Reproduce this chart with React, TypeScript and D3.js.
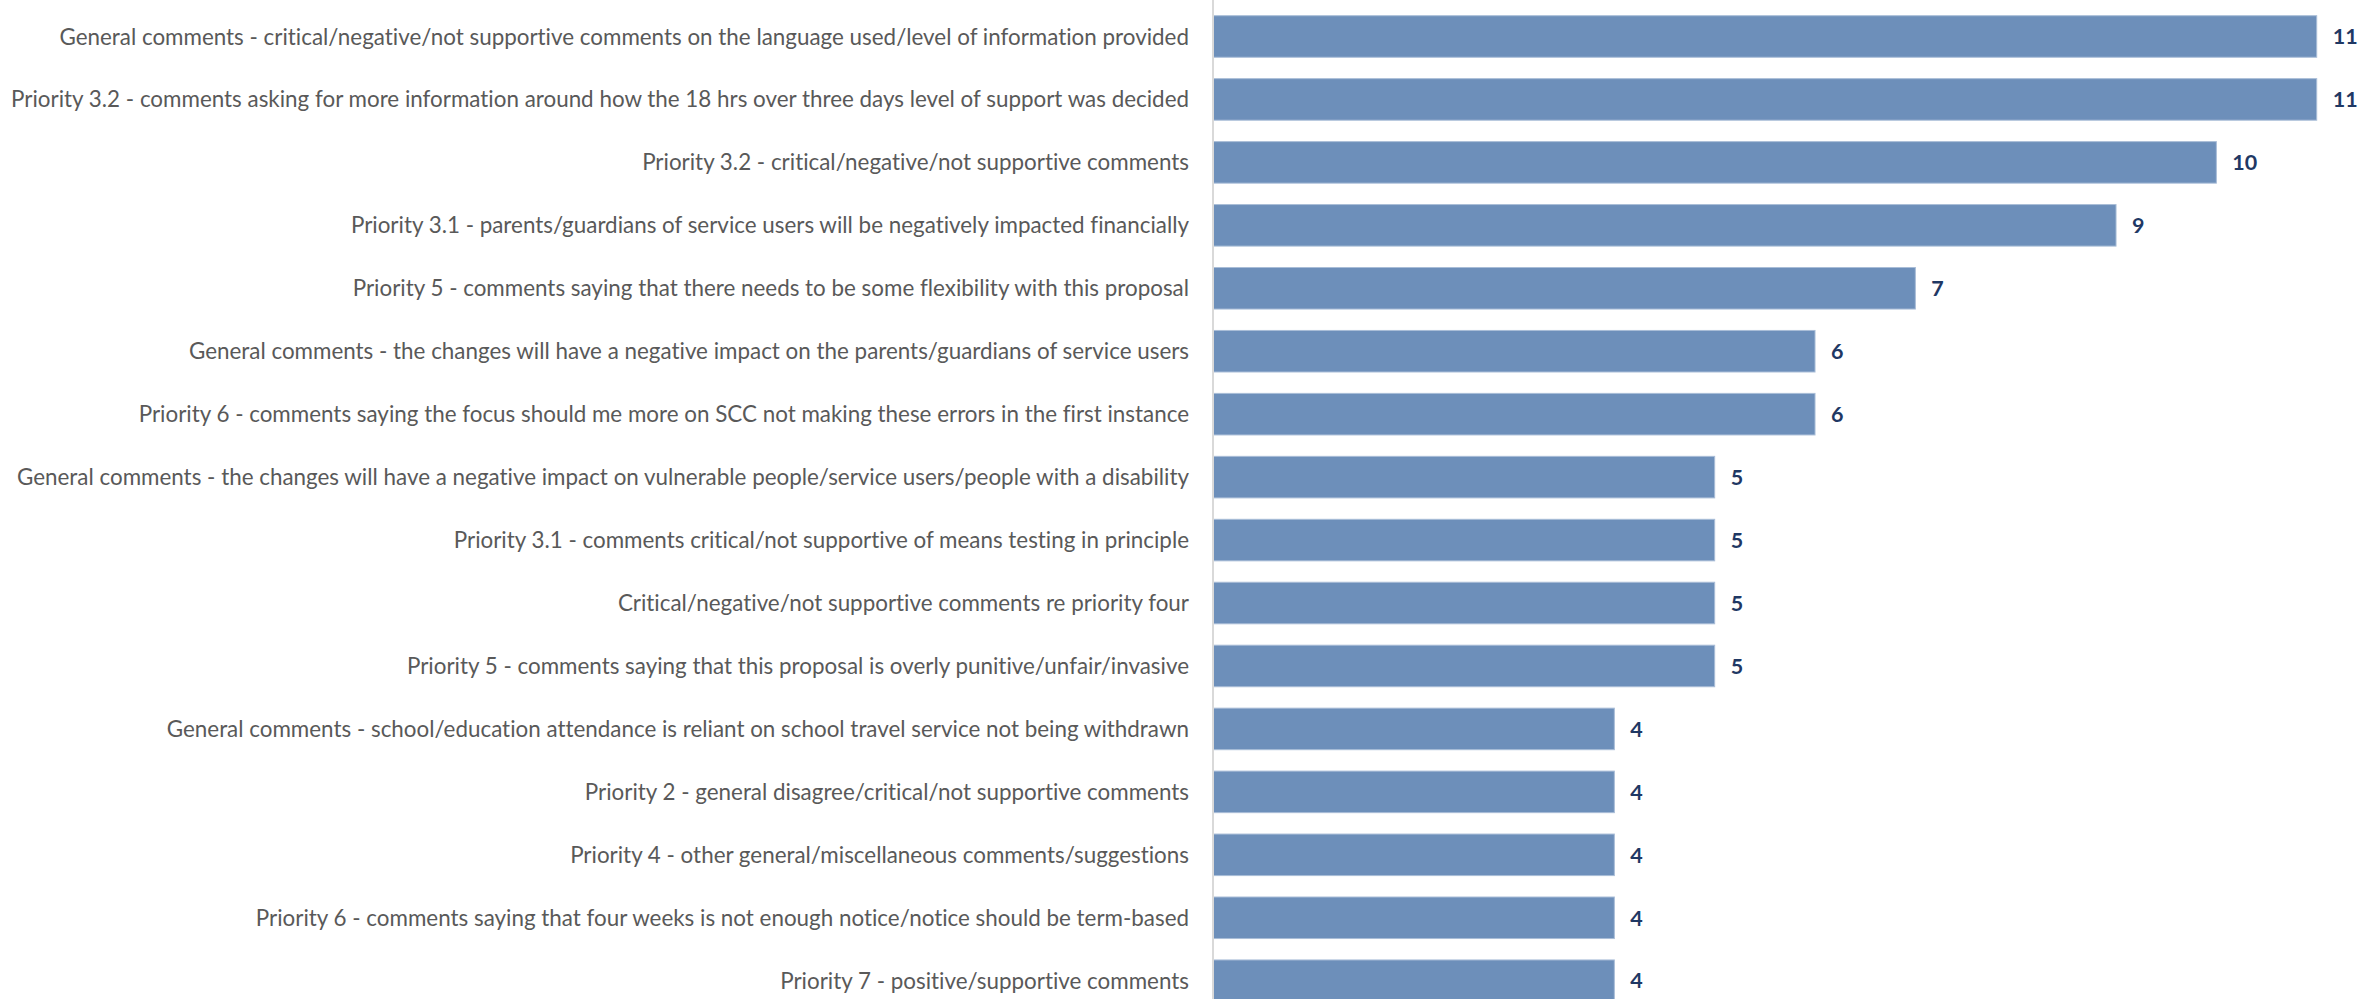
import React, { useEffect } from "react";
import * as d3 from "d3";

const categories: string[] = [
  "General comments - critical/negative/not supportive comments on the language used/level of information provided",
  "Priority 3.2 - comments asking for more information around how the 18 hrs over three days level of support was decided",
  "Priority 3.2 - critical/negative/not supportive comments",
  "Priority 3.1 - parents/guardians of service users will be negatively impacted financially",
  "Priority 5 - comments saying that there needs to be some flexibility with this proposal",
  "General comments - the changes will have a negative impact on the parents/guardians of service users",
  "Priority 6 - comments saying the focus should me more on SCC not making these errors in the first instance",
  "General comments - the changes will have a negative impact on vulnerable people/service users/people with a disability",
  "Priority 3.1 - comments critical/not supportive of means testing in principle",
  "Critical/negative/not supportive comments re priority four",
  "Priority 5 - comments saying that this proposal is overly punitive/unfair/invasive",
  "General comments - school/education attendance is reliant on school travel service not being withdrawn",
  "Priority 2 - general disagree/critical/not supportive comments",
  "Priority 4 - other general/miscellaneous comments/suggestions",
  "Priority 6 - comments saying that four weeks is not enough notice/notice should be term-based",
  "Priority 7 - positive/supportive comments",
];

const counts: number[] = [11, 11, 10, 9, 7, 6, 6, 5, 5, 5, 5, 4, 4, 4, 4, 4];

const W = 2361;
const H = 999;

export default function App() {
  useEffect(() => {
    document.body.style.margin = "0";
  }, []);

  const x = d3.scaleLinear().domain([0, 11]).range([1213, 2316.7]);
  const step = 62.95;
  const y = d3
    .scaleBand<number>()
    .domain(d3.range(categories.length))
    .range([5, 5 + step * categories.length])
    .paddingInner(0.34)
    .paddingOuter(0.17);

  const labelFont = "Lato, 'Open Sans', sans-serif";

  return (
    <svg width={W} height={H} style={{ display: "block", background: "#fff" }}>
      {categories.map((c, i) => {
        const y0 = y(i)!;
        const bw = y.bandwidth();
        return (
          <g key={i}>
            <rect
              x={x(0)}
              y={y0}
              width={x(counts[i]) - x(0)}
              height={bw}
              fill="#6D8FBA"
              stroke="#A9BDD7"
              strokeWidth={1}
            />
            <text
              x={x(0) - 24}
              y={y0 + bw / 2}
              dy="0.36em"
              textAnchor="end"
              fontFamily={labelFont}
              fontSize={22.4}
              fill="#595959"
              style={{ fontVariantLigatures: "none" }}
            >
              {c}
            </text>
            <text
              x={x(counts[i]) + 16}
              y={y0 + bw / 2}
              dy="0.36em"
              textAnchor="start"
              fontFamily={labelFont}
              fontSize={21.5}
              fontWeight="bold"
              fill="#1F3864"
            >
              {counts[i]}
            </text>
          </g>
        );
      })}
      <line x1={x(0)} x2={x(0)} y1={0} y2={H} stroke="#D9D9D9" strokeWidth={2} />
    </svg>
  );
}
